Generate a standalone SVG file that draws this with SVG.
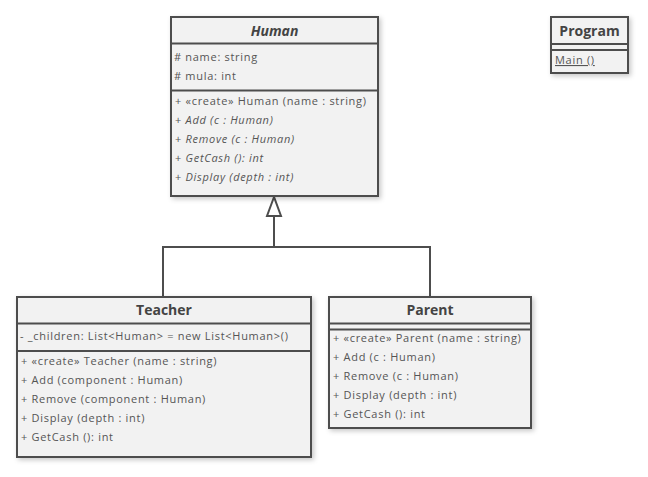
<svg xmlns="http://www.w3.org/2000/svg" width="648" height="477" viewBox="0 0 648 477">
<defs>
<filter id="sh" x="-10%" y="-10%" width="130%" height="130%">
<feDropShadow dx="2" dy="2" stdDeviation="2.5" flood-color="#000" flood-opacity="0.22"/>
</filter>
</defs>
<style>
.box{fill:#f2f2f2;stroke:#4d4d4d;stroke-width:2}
.ln{stroke:#4d4d4d;stroke-width:2;fill:none}
.t{font-family:"Open Sans","Noto Sans",sans-serif;font-size:11px;letter-spacing:0.7px;fill:#555}
.i{font-style:italic}
.h{font-family:"Open Sans","Noto Sans",sans-serif;font-size:14px;font-weight:bold;fill:#444;text-anchor:middle}
</style>
<rect width="648" height="477" fill="#ffffff"/>
<g id="connectors">
<polyline class="ln" points="163,297 163,247 430,247 430,297"/>
<line class="ln" x1="274" y1="247" x2="274" y2="216"/>
<polygon points="274,197 267,216 281,216" fill="#ffffff" stroke="#4d4d4d" stroke-width="2" stroke-linejoin="miter"/>
</g>
<g id="Human">
<rect class="box" x="171" y="17" width="207" height="179" filter="url(#sh)"/>
<line class="ln" x1="171" y1="43.5" x2="378" y2="43.5"/>
<line class="ln" x1="171" y1="90.5" x2="378" y2="90.5"/>
<text class="h i" x="274.5" y="36" font-size="15">Human</text>
<text class="t" x="174" y="61"># name: string</text>
<text class="t" x="174" y="80"># mula: int</text>
<text class="t" x="175" y="105">+ «create» Human (name : string)</text>
<text class="t" x="175" y="124">+ <tspan class="i">Add (c : Human)</tspan></text>
<text class="t" x="175" y="143">+ <tspan class="i">Remove (c : Human)</tspan></text>
<text class="t" x="175" y="162">+ <tspan class="i">GetCash (): int</tspan></text>
<text class="t" x="175" y="181">+ <tspan class="i">Display (depth : int)</tspan></text>
</g>
<g id="Program">
<rect class="box" x="551" y="17" width="77" height="56" filter="url(#sh)"/>
<line class="ln" x1="551" y1="44" x2="628" y2="44"/>
<line class="ln" x1="551" y1="50" x2="628" y2="50"/>
<text class="h" x="589.5" y="36">Program</text>
<text class="t" x="555" y="64" text-decoration="underline">Main ()</text>
</g>
<g id="Teacher">
<rect class="box" x="17" y="297" width="294" height="160" filter="url(#sh)"/>
<line class="ln" x1="17" y1="323.5" x2="311" y2="323.5"/>
<line class="ln" x1="17" y1="351" x2="311" y2="351"/>
<text class="h" x="164" y="315">Teacher</text>
<text class="t" x="20" y="340">- _children: List&lt;Human&gt; = new List&lt;Human&gt;()</text>
<text class="t" x="21" y="365">+ «create» Teacher (name : string)</text>
<text class="t" x="21" y="384">+ Add (component : Human)</text>
<text class="t" x="21" y="403">+ Remove (component : Human)</text>
<text class="t" x="21" y="422">+ Display (depth : int)</text>
<text class="t" x="21" y="441">+ GetCash (): int</text>
</g>
<g id="Parent">
<rect class="box" x="329" y="297" width="202" height="131" filter="url(#sh)"/>
<line class="ln" x1="329" y1="323.5" x2="531" y2="323.5"/>
<line class="ln" x1="329" y1="329.5" x2="531" y2="329.5"/>
<text class="h" x="430" y="315">Parent</text>
<text class="t" x="333" y="342">+ «create» Parent (name : string)</text>
<text class="t" x="333" y="361">+ Add (c : Human)</text>
<text class="t" x="333" y="380">+ Remove (c : Human)</text>
<text class="t" x="333" y="399">+ Display (depth : int)</text>
<text class="t" x="333" y="418">+ GetCash (): int</text>
</g>
</svg>
